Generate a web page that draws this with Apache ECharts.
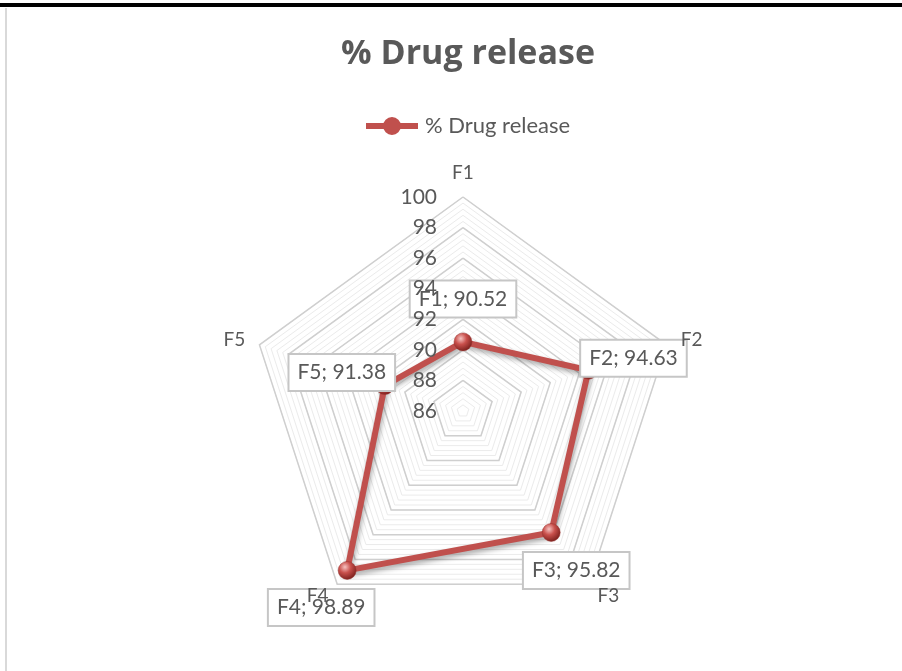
<!DOCTYPE html>
<html>
<head>
<meta charset="utf-8">
<style>
  html, body { margin: 0; padding: 0; background: #fff; }
  #chart { width: 902px; height: 671px; }
</style>
<script src="https://cdn.jsdelivr.net/npm/echarts@6/dist/echarts.min.js"></script>
</head>
<body>
<div id="chart"></div>
<script>
// ---- data ----
const categories = ['F1', 'F2', 'F3', 'F4', 'F5'];
const drugRelease = [90.52, 94.63, 95.82, 98.89, 91.38];
const seriesName = '% Drug release';
const axisMin = 86, axisMax = 100, axisStep = 2;

// label offsets (callout placement relative to each point)
const labelOffsets = { F1: [0, -43], F2: [45, -12], F3: [25, 38], F4: [-26, 37], F5: [-43, -13] };

// ECharts places indicators counter-clockwise; Excel goes clockwise
const order = [0, 4, 3, 2, 1];
const indicatorsTop = order.map((i, k) => ({
  name: categories[i], min: axisMin, max: axisMax,
  axisLabel: { show: k === 0 }
}));
const indicatorsPlain = order.map(i => ({ name: '', min: axisMin, max: axisMax }));
const orderedValues = order.map(i => drugRelease[i]);

const FONT = 'Lato, "Open Sans", sans-serif';
const TXT = '#595959';
const center = ['463', '411'];
const radius = 214;

const chart = echarts.init(document.getElementById('chart'), null, { renderer: 'canvas' });
chart.setOption({
  backgroundColor: '#fff',
  animation: false,
  title: {
    text: '% Drug release', left: 463, top: 32, textAlign: 'center',
    textStyle: { fontFamily: '"Open Sans", sans-serif', fontSize: 34, fontWeight: 'bold', color: TXT }
  },
  legend: {
    top: 110, left: 361,
    itemWidth: 56, itemHeight: 18, itemGap: 4,
    textStyle: { fontFamily: FONT, fontSize: 22, color: TXT },
    data: [{
      name: seriesName,
      icon: 'path://M2,6 H54 V12 H2 Z M37,9 A9,9 0 1,1 19,9 A9,9 0 1,1 37,9 Z',
      itemStyle: { color: '#c0504d', borderWidth: 0 }
    }]
  },
  graphic: [
    { type: 'rect', shape: { x: 0, y: 3, width: 902, height: 4 }, style: { fill: '#000' }, silent: true },
    { type: 'rect', shape: { x: 5, y: 8, width: 2, height: 663 }, style: { fill: '#d9d9d9' }, silent: true }
  ],
  radar: [
    {
      center: center, radius: radius, shape: 'polygon', startAngle: 90,
      splitNumber: (axisMax - axisMin) / 0.4,
      indicator: indicatorsPlain,
      axisName: { show: false },
      axisLine: { show: false }, axisTick: { show: false }, axisLabel: { show: false },
      splitArea: { show: false },
      splitLine: { lineStyle: { color: '#ebebeb', width: 1 } },
      silent: true
    },
    {
      center: center, radius: radius, shape: 'polygon', startAngle: 90,
      splitNumber: (axisMax - axisMin) / axisStep,
      indicator: indicatorsPlain,
      axisName: { show: false },
      axisLine: { show: false }, axisTick: { show: false }, axisLabel: { show: false },
      splitArea: { show: false },
      splitLine: { lineStyle: { color: '#cfcfcf', width: 1.5 } },
      silent: true
    },
    {
      z: 10,
      center: center, radius: radius, shape: 'polygon', startAngle: 90,
      splitNumber: (axisMax - axisMin) / axisStep,
      indicator: indicatorsTop,
      nameGap: 15,
      axisName: { color: TXT, fontFamily: FONT, fontSize: 19 },
      axisLine: { show: false }, axisTick: { show: false },
      axisLabel: { show: true, color: TXT, fontFamily: FONT, fontSize: 21, margin: 26 },
      splitArea: { show: false },
      splitLine: { show: false },
      silent: true
    }
  ],
  series: [{
    type: 'radar',
    radarIndex: 1,
    symbol: 'circle',
    symbolSize: 18,
    itemStyle: {
      color: {
        type: 'radial', x: 0.38, y: 0.32, r: 0.7,
        colorStops: [
          { offset: 0, color: '#f6c3c1' },
          { offset: 0.45, color: '#c9504c' },
          { offset: 1, color: '#7a1f1c' }
        ]
      },
      borderColor: '#9b3431', borderWidth: 0.5
    },
    lineStyle: {
      color: '#c0504d', width: 6,
      shadowColor: 'rgba(0,0,0,0.35)', shadowBlur: 5, shadowOffsetX: 1, shadowOffsetY: 3
    },
    areaStyle: null,
    label: {
      show: true, position: 'inside',
      fontFamily: FONT, fontSize: 21, color: TXT,
      backgroundColor: '#fff', borderColor: '#c6c6c6', borderWidth: 2,
      padding: [8, 8, 6, 8],
      formatter: function (p) {
        const idx = drugRelease.indexOf(p.value);
        return categories[idx] + '; ' + p.value.toFixed(2);
      }
    },
    labelLayout: function (p) {
      const key = (p.text || '').split(';')[0];
      const off = labelOffsets[key] || [0, 0];
      return { dx: off[0], dy: off[1] };
    },
    data: [{ name: seriesName, value: orderedValues }]
  }]
});
</script>
</body>
</html>
